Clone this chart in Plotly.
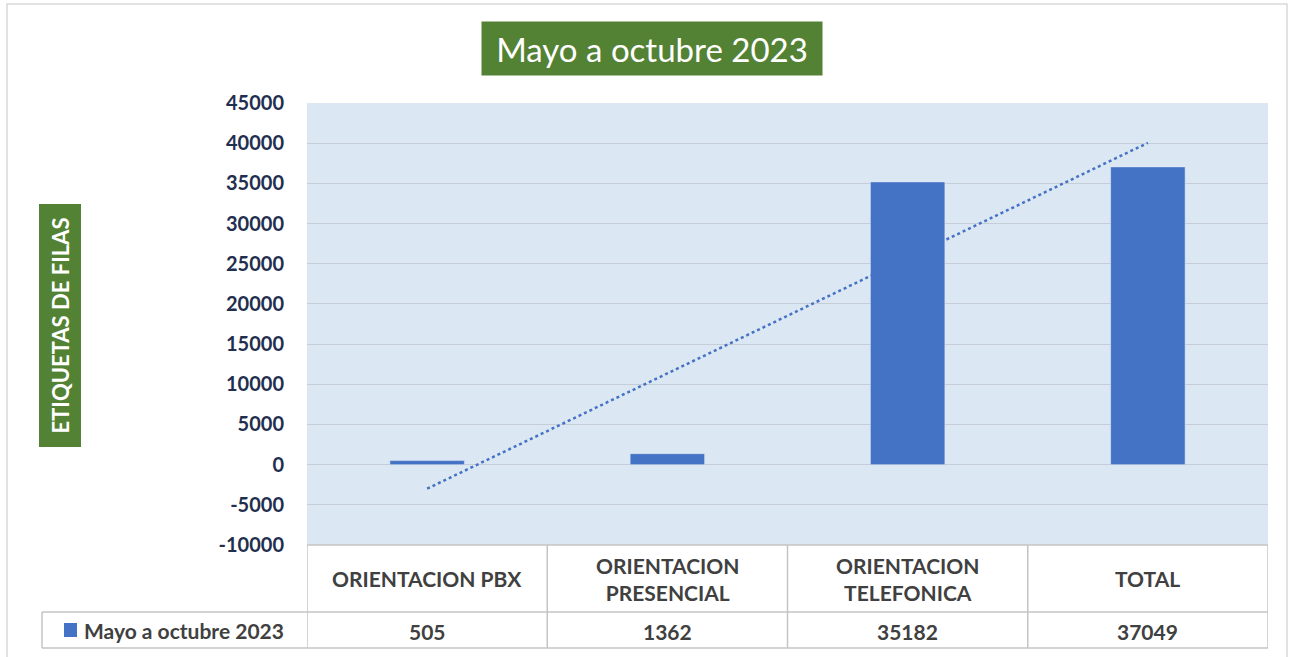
import numpy as np
import plotly.graph_objects as go

# ---- data ----
categories = ["ORIENTACION PBX", "ORIENTACION PRESENCIAL", "ORIENTACION TELEFONICA", "TOTAL"]
category_labels = ["ORIENTACION PBX", "ORIENTACION<br>PRESENCIAL", "ORIENTACION<br>TELEFONICA", "TOTAL"]
values = [505, 1362, 35182, 37049]
series_name = "Mayo a octubre 2023"
title_text = "Mayo a octubre 2023"
y_title = "ETIQUETAS DE FILAS"
y_ticks = [-10000, -5000, 0, 5000, 10000, 15000, 20000, 25000, 30000, 35000, 40000, 45000]

# ---- layout geometry ----
W, H = 1294, 657
ML, MR, MT, MB = 307, 26, 103, 112
PW, PH = W - ML - MR, H - MT - MB


def px_x(px):
    return (px - ML) / PW


def px_y(py):
    return (H - MB - py) / PH


BLUE = "#4472C4"
GREEN = "#548235"
FONT = "Lato"
TABLE_TXT = "#404040"
BORDER = "#C4C4C4"

# linear trendline from the data
idx = np.arange(len(values))
slope, intercept = np.polyfit(idx, values, 1)
trend = slope * idx + intercept

fig = go.Figure()
fig.add_trace(go.Bar(x=categories, y=values, marker_color=BLUE, width=0.31,
                     name=series_name, showlegend=False))
fig.add_trace(go.Scatter(x=categories, y=trend, mode="lines",
                         line=dict(color=BLUE, width=2.5, dash="dot"),
                         showlegend=False, hoverinfo="skip"))

annotations = []
shapes = []

# title box
annotations.append(dict(text=title_text, xref="paper", yref="paper",
                        x=px_x(652), y=px_y(48.5), xanchor="center", yanchor="middle",
                        showarrow=False, bgcolor=GREEN, width=340, height=53, borderpad=0,
                        font=dict(family=FONT, size=33, color="white")))
# y-axis title box
annotations.append(dict(text=y_title, xref="paper", yref="paper",
                        x=px_x(59.5), y=px_y(325), xanchor="center", yanchor="middle",
                        showarrow=False, bgcolor=GREEN, textangle=-90, width=242, height=41,
                        borderpad=0,
                        font=dict(family=FONT, size=22, color="white", weight="bold")))

# data table: category row and values row
row1_top, row1_bot, row2_bot = 545, 612, 648
tfont = dict(family=FONT, size=21, color=TABLE_TXT, weight="bold")
for cat, lab, v in zip(categories, category_labels, values):
    annotations.append(dict(text=lab, xref="x", yref="paper", x=cat,
                            y=px_y((row1_top + row1_bot) / 2), xanchor="center", yanchor="middle",
                            showarrow=False, font=tfont))
    annotations.append(dict(text=str(v), xref="x", yref="paper", x=cat,
                            y=px_y((row1_bot + row2_bot) / 2 + 1), xanchor="center", yanchor="middle",
                            showarrow=False, font=tfont))
# legend cell
annotations.append(dict(text=series_name, xref="paper", yref="paper", x=px_x(82),
                        y=px_y((row1_bot + row2_bot) / 2), xanchor="left", yanchor="middle",
                        showarrow=False, font=tfont))
shapes.append(dict(type="rect", xref="paper", yref="paper", x0=px_x(64), x1=px_x(77),
                   y0=px_y(637), y1=px_y(623), fillcolor=BLUE, line=dict(width=0)))

# table borders
line = dict(color=BORDER, width=1.5)
for k in range(len(categories) + 1):
    xb = k - 0.5
    shapes.append(dict(type="line", xref="x", yref="paper", x0=xb, x1=xb,
                       y0=px_y(row1_top), y1=px_y(row2_bot), line=line))
shapes.append(dict(type="line", xref="paper", yref="paper", x0=0, x1=1,
                   y0=px_y(row1_top), y1=px_y(row1_top), line=line))
shapes.append(dict(type="line", xref="paper", yref="paper", x0=px_x(42), x1=1,
                   y0=px_y(row1_bot), y1=px_y(row1_bot), line=line))
shapes.append(dict(type="line", xref="paper", yref="paper", x0=px_x(42), x1=1,
                   y0=px_y(row2_bot), y1=px_y(row2_bot), line=line))
shapes.append(dict(type="line", xref="paper", yref="paper", x0=px_x(42), x1=px_x(42),
                   y0=px_y(row1_bot), y1=px_y(row2_bot), line=line))
# outer chart frame
shapes.append(dict(type="rect", xref="paper", yref="paper", x0=px_x(7), x1=px_x(1287),
                   y0=px_y(665), y1=px_y(4), line=dict(color="#D9D9D9", width=1.5),
                   fillcolor="rgba(0,0,0,0)", layer="below"))

fig.update_layout(
    width=W, height=H,
    margin=dict(l=ML, r=MR, t=MT, b=MB),
    paper_bgcolor="white",
    plot_bgcolor="#DCE7F4",
    font=dict(family=FONT),
    bargap=0.69,
    annotations=annotations,
    shapes=shapes,
    xaxis=dict(type="category", range=[-0.5, len(categories) - 0.5], showticklabels=False,
               showgrid=False, zeroline=False, showline=False, ticks=""),
    yaxis=dict(range=[y_ticks[0], y_ticks[-1]], tickvals=y_ticks,
               ticktext=[str(t) for t in y_ticks],
               showgrid=True, gridcolor="#C6CDD6", gridwidth=1,
               zeroline=True, zerolinecolor="#C6CDD6", zerolinewidth=1,
               showline=False, ticks="", ticklabelstandoff=22,
               tickfont=dict(family=FONT, size=20, color="#1F2F4F", weight="bold")),
)

fig.write_html("out.html")
